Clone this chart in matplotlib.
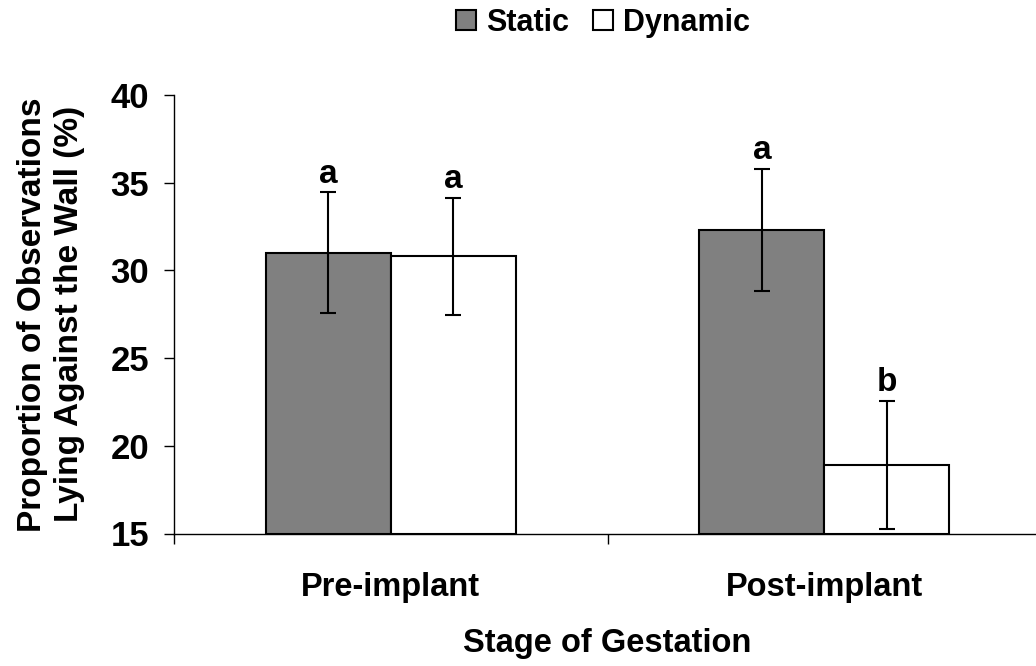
import numpy as np
import matplotlib
matplotlib.use("Agg")
import matplotlib.pyplot as plt

plt.rcParams['font.family'] = ['Liberation Sans', 'DejaVu Sans']
plt.rcParams['font.weight'] = 'bold'

# data
stages = ["Pre-implant", "Post-implant"]
static_mean = [31.0, 32.3]
static_err = [3.45, 3.5]
dynamic_mean = [30.8, 18.9]
dynamic_err = [3.35, 3.65]
static_letters = ["a", "a"]
dynamic_letters = ["a", "b"]

fig = plt.figure(figsize=(10.36, 6.66), dpi=100)
ax = fig.add_axes([174 / 1036, 1 - 533.5 / 666, 867 / 1036, 438.5 / 666])

x = np.arange(len(stages))
w = 0.288
bar_kw = dict(edgecolor="black", linewidth=1.5, bottom=15)
err_kw = dict(ecolor="black", elinewidth=1.5, capsize=6, capthick=1.5)

b1 = ax.bar(x - w / 2, np.array(static_mean) - 15, w, color="#808080",
            yerr=static_err, error_kw=err_kw, label="Static", **bar_kw)
b2 = ax.bar(x + w / 2, np.array(dynamic_mean) - 15, w, color="white",
            yerr=dynamic_err, error_kw=err_kw, label="Dynamic", **bar_kw)

# significance letters sit on top of the error caps
for xs, m, e, lab in zip(x - w / 2, static_mean, static_err, static_letters):
    ax.annotate(lab, (xs, m + e), xytext=(0, 2), textcoords="offset points",
                ha="center", va="bottom", fontsize=24, fontweight="bold")
for xs, m, e, lab in zip(x + w / 2, dynamic_mean, dynamic_err, dynamic_letters):
    ax.annotate(lab, (xs, m + e), xytext=(0, 2), textcoords="offset points",
                ha="center", va="bottom", fontsize=24, fontweight="bold")

ax.set_ylim(15, 40)
ax.set_xlim(-0.5, 1.5)
ax.set_yticks([15, 20, 25, 30, 35, 40])
ax.tick_params(axis="y", labelsize=25, length=7, width=1, pad=11)
ax.set_xticks([-0.5, 0.5, 1.5])
ax.set_xticklabels([])
ax.set_xticks(x, minor=True)
ax.set_xticklabels(stages, minor=True, fontsize=23.5, fontweight="bold")
ax.tick_params(axis="x", which="major", length=7, width=1, direction="out")
ax.tick_params(axis="x", which="minor", length=0, pad=28)
for lab in ax.get_yticklabels():
    lab.set_fontweight("bold")

ax.spines["top"].set_visible(False)
ax.spines["right"].set_visible(False)
ax.spines["left"].set_linewidth(1)
ax.spines["bottom"].set_linewidth(1)

ax.set_xlabel("Stage of Gestation", fontsize=23.5, fontweight="bold", labelpad=18)
ax.set_ylabel("Proportion of Observations\nLying Against the Wall (%)",
              fontsize=24, fontweight="bold", labelpad=18, linespacing=1.25)

fig.legend(handles=[b1, b2], labels=["Static", "Dynamic"], loc="center",
           bbox_to_anchor=(603 / 1036, 1 - 23 / 666), ncol=2, frameon=False,
           handlelength=0.65, handleheight=0.65, handletextpad=0.33,
           columnspacing=0.8, prop={"weight": "bold", "size": 22})

fig.savefig("out.png", dpi=100)
